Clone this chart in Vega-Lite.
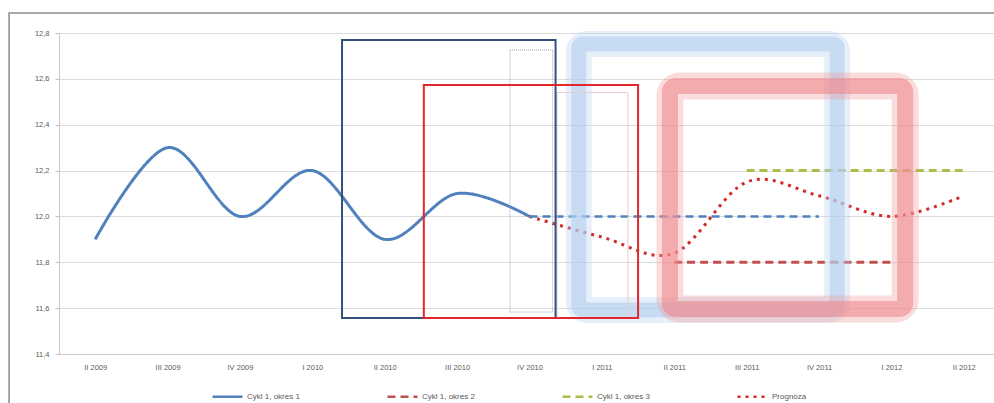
{
  "$schema": "https://vega.github.io/schema/vega-lite/v6.json",
  "autosize": {"type": "none"},
  "padding": {"left": 59, "top": 33, "right": 0, "bottom": 49},
  "width": 941,
  "height": 321,
  "background": "white",
  "config": {
    "font": "Liberation Sans",
    "view": {"stroke": null},
    "axis": {"labelFont": "Liberation Sans", "labelFontSize": 7.5, "labelColor": "#595959", "domainColor": "#bfbfbf", "tickColor": "#bfbfbf", "gridColor": "#dcdcdc", "title": null}
  },
  "datasets": {
    "series": [
      {"q": "II 2009", "v": 11.9, "s": "Cykl 1, okres 1"},
      {"q": "III 2009", "v": 12.3, "s": "Cykl 1, okres 1"},
      {"q": "IV 2009", "v": 12.0, "s": "Cykl 1, okres 1"},
      {"q": "I 2010", "v": 12.2, "s": "Cykl 1, okres 1"},
      {"q": "II 2010", "v": 11.9, "s": "Cykl 1, okres 1"},
      {"q": "III 2010", "v": 12.1, "s": "Cykl 1, okres 1"},
      {"q": "IV 2010", "v": 12.0, "s": "Cykl 1, okres 1"},
      {"q": "II 2011", "v": 11.8, "s": "Cykl 1, okres 2"},
      {"q": "III 2011", "v": 11.8, "s": "Cykl 1, okres 2"},
      {"q": "IV 2011", "v": 11.8, "s": "Cykl 1, okres 2"},
      {"q": "I 2012", "v": 11.8, "s": "Cykl 1, okres 2"},
      {"q": "III 2011", "v": 12.2, "s": "Cykl 1, okres 3"},
      {"q": "IV 2011", "v": 12.2, "s": "Cykl 1, okres 3"},
      {"q": "I 2012", "v": 12.2, "s": "Cykl 1, okres 3"},
      {"q": "II 2012", "v": 12.2, "s": "Cykl 1, okres 3"},
      {"q": "IV 2010", "v": 12.0, "s": "Prognoza"},
      {"q": "I 2011", "v": 11.91, "s": "Prognoza"},
      {"q": "II 2011", "v": 11.84, "s": "Prognoza"},
      {"q": "III 2011", "v": 12.15, "s": "Prognoza"},
      {"q": "IV 2011", "v": 12.09, "s": "Prognoza"},
      {"q": "I 2012", "v": 12.0, "s": "Prognoza"},
      {"q": "II 2012", "v": 12.09, "s": "Prognoza"}
    ],
    "cont": [
      {"q": "IV 2010", "v": 12.0},
      {"q": "I 2011", "v": 12.0},
      {"q": "II 2011", "v": 12.0},
      {"q": "III 2011", "v": 12.0},
      {"q": "IV 2011", "v": 12.0}
    ],
    "blueBox": [{"x": 7.18, "x2": 10.75, "y": 12.752, "y2": 11.592}],
    "redBox": [{"x": 8.44, "x2": 11.69, "y": 12.569, "y2": 11.596}]
  },
  "layer": [
    {
      "layer": [
        {
          "data": {"name": "series"},
          "mark": {"type": "line", "interpolate": "cardinal", "strokeWidth": 3},
          "encoding": {
            "x": {"field": "q", "type": "ordinal",
              "scale": {"type": "point", "padding": 0.5, "domain": ["II 2009","III 2009","IV 2009","I 2010","II 2010","III 2010","IV 2010","I 2011","II 2011","III 2011","IV 2011","I 2012","II 2012"]},
              "axis": {"labelAngle": 0, "ticks": false, "labelPadding": 9, "grid": false, "domainColor": "#c8c8c8"}},
            "y": {"field": "v", "type": "quantitative",
              "scale": {"domain": [11.4, 12.8], "nice": false, "zero": false},
              "axis": {"values": [11.4, 11.6, 11.8, 12.0, 12.2, 12.4, 12.6, 12.8], "labelExpr": "replace(format(datum.value, '.1f'), '.', ',')", "tickSize": 4, "labelPadding": 6, "grid": true, "domainColor": "#c8c8c8"}},
            "color": {"field": "s", "type": "nominal",
              "scale": {"domain": ["Cykl 1, okres 1", "Cykl 1, okres 2", "Cykl 1, okres 3", "Prognoza"], "range": ["#4f81bd", "#c0504d", "#a8c04a", "#d42a2a"]},
              "legend": {"orient": "none", "legendX": 152, "legendY": 347, "direction": "horizontal", "title": null, "symbolType": "stroke", "symbolSize": 900, "symbolStrokeWidth": 2.5, "labelFontSize": 8, "labelColor": "#595959", "columnPadding": 82, "labelOffset": 3}},
            "strokeDash": {"field": "s", "type": "nominal",
              "scale": {"domain": ["Cykl 1, okres 1", "Cykl 1, okres 2", "Cykl 1, okres 3", "Prognoza"], "range": [[1, 0], [8, 5], [8, 5], [3, 5]]},
              "legend": {"orient": "none", "legendX": 152, "legendY": 347, "direction": "horizontal", "title": null, "symbolType": "stroke", "symbolSize": 900, "symbolStrokeWidth": 2.5, "labelFontSize": 8, "labelColor": "#595959", "columnPadding": 82, "labelOffset": 3}}
          }
        },
        {
          "data": {"name": "cont"},
          "mark": {"type": "line", "color": "#4f81bd", "strokeWidth": 2.5, "strokeDash": [8, 5]},
          "encoding": {
            "x": {"field": "q", "type": "ordinal"},
            "y": {"field": "v", "type": "quantitative"}
          }
        }
      ]
    },
    {
      "encoding": {
        "x": {"field": "x", "type": "quantitative", "scale": {"domain": [0, 13], "nice": false, "zero": false}, "axis": null},
        "x2": {"field": "x2"},
        "y": {"field": "y", "type": "quantitative"},
        "y2": {"field": "y2"}
      },
      "layer": [
        {
          "data": {"values": [{"x": -0.69, "x2": 13.3, "y": 12.887, "y2": 11.1}]},
          "mark": {"type": "rect", "fill": null, "stroke": "#8c8c8c", "strokeWidth": 1.5, "clip": false}
        },
        {
          "data": {"name": "blueBox"},
          "mark": {"type": "rect", "fill": null, "stroke": "#b9d2f0", "strokeOpacity": 0.35, "strokeWidth": 26, "cornerRadius": 8}
        },
        {
          "data": {"name": "blueBox"},
          "mark": {"type": "rect", "fill": null, "stroke": "#b2cdef", "strokeOpacity": 0.6, "strokeWidth": 15, "cornerRadius": 4}
        },
        {
          "data": {"name": "redBox"},
          "mark": {"type": "rect", "fill": null, "stroke": "#f29a9c", "strokeOpacity": 0.35, "strokeWidth": 27, "cornerRadius": 10}
        },
        {
          "data": {"name": "redBox"},
          "mark": {"type": "rect", "fill": null, "stroke": "#ef8a8d", "strokeOpacity": 0.6, "strokeWidth": 16, "cornerRadius": 6}
        },
        {
          "data": {"values": [{"x": 6.88, "x2": 7.86, "y": 12.54, "y2": 11.557}]},
          "mark": {"type": "rect", "fill": null, "stroke": "#e6cccc", "strokeWidth": 1}
        },
        {
          "data": {"values": [{"x": 6.23, "x2": 6.82, "y": 12.726, "y2": 11.583}]},
          "mark": {"type": "rect", "fill": null, "stroke": "#9aa6b8", "strokeWidth": 1, "strokeDash": [1, 1]}
        },
        {
          "data": {"values": [{"x": 3.91, "x2": 6.86, "y": 12.77, "y2": 11.557}]},
          "mark": {"type": "rect", "fill": null, "stroke": "#34507c", "strokeWidth": 2}
        },
        {
          "data": {"values": [{"x": 5.04, "x2": 8.0, "y": 12.573, "y2": 11.557}]},
          "mark": {"type": "rect", "fill": null, "stroke": "#e3262c", "strokeWidth": 2}
        }
      ]
    }
  ],
  "resolve": {"scale": {"x": "independent"}}
}
